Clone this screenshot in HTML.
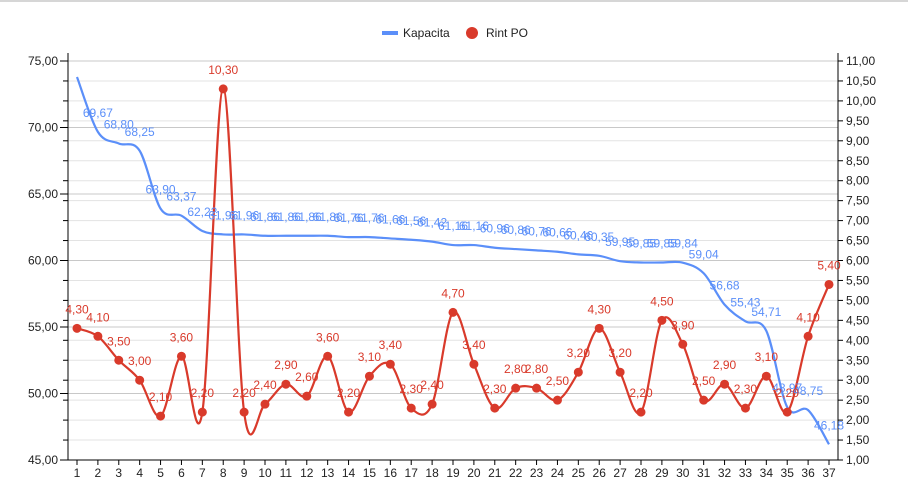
<!DOCTYPE html>
<html><head><meta charset="utf-8"><style>
html,body{margin:0;padding:0;background:#fff;}
svg{display:block;font-family:"Liberation Sans",Arial,sans-serif;}
</style></head><body>
<svg id="c" width="908" height="504" xmlns="http://www.w3.org/2000/svg"></svg>
<script>
const svg=document.getElementById('c');
const NS='http://www.w3.org/2000/svg';
function el(t,a,txt){const e=document.createElementNS(NS,t);for(const k in a)e.setAttribute(k,a[k]);if(txt!==undefined)e.textContent=txt;svg.appendChild(e);return e;}
const L=68,R=838,T=61,B=460;
const X=i=>77+(i-1)*752/36;
const YL=v=>T+(75-v)*(B-T)/30;
const YR=v=>T+(11-v)*(B-T)/10;
el('rect',{x:0,y:0,width:908,height:2,fill:'#d6d6d6'});
for(let k=0;k<=20;k++){const y=T+k*(B-T)/20;el('line',{x1:L,x2:R,y1:y,y2:y,stroke:'#e3e3e3','stroke-width':1});}
for(let v=45;v<=75;v+=5){const y=YL(v);el('line',{x1:L,x2:R,y1:y,y2:y,stroke:'#c8c8c8','stroke-width':1});}
el('line',{x1:L,x2:L,y1:T-8,y2:B,stroke:'#000'});
el('line',{x1:R,x2:R,y1:T-8,y2:B,stroke:'#000'});
el('line',{x1:L,x2:R,y1:B,y2:B,stroke:'#000'});
for(let k=0;k<=20;k++){const y=T+k*(B-T)/20;el('line',{x1:L-5,x2:L,y1:y,y2:y,stroke:'#000'});el('line',{x1:R,x2:R+5,y1:y,y2:y,stroke:'#000'});
 const v=(11-k*0.5).toFixed(2).replace('.',',');el('text',{x:R+8,y:y+4,'font-size':12,fill:'#222'},v);}
for(let v=45;v<=75;v+=5){const y=YL(v);el('line',{x1:L-8,x2:L,y1:y,y2:y,stroke:'#000'});el('text',{x:L-10,y:y+4,'font-size':12,fill:'#222','text-anchor':'end'},v.toFixed(2).replace('.',','));}
for(let i=1;i<=37;i++){el('line',{x1:X(i),x2:X(i),y1:B,y2:B+5,stroke:'#000'});el('text',{x:X(i),y:B+17,'font-size':12,fill:'#222','text-anchor':'middle'},i);}
const kap=[73.8,69.67,68.80,68.25,63.90,63.37,62.22,61.96,61.96,61.86,61.86,61.86,61.86,61.76,61.76,61.66,61.56,61.42,61.16,61.16,60.96,60.86,60.76,60.66,60.46,60.35,59.95,59.85,59.85,59.84,59.04,56.68,55.43,54.71,48.97,48.75,46.18];
const rint=[4.30,4.10,3.50,3.00,2.10,3.60,2.20,10.30,2.20,2.40,2.90,2.60,3.60,2.20,3.10,3.40,2.30,2.40,4.70,3.40,2.30,2.80,2.80,2.50,3.20,4.30,3.20,2.20,4.50,3.90,2.50,2.90,2.30,3.10,2.20,4.10,5.40];
function path(pts){let d=`M${pts[0][0]},${pts[0][1]}`;for(let i=0;i<pts.length-1;i++){const p0=pts[Math.max(i-1,0)],p1=pts[i],p2=pts[i+1],p3=pts[Math.min(i+2,pts.length-1)];const t=6;
 d+=` C${p1[0]+(p2[0]-p0[0])/t},${p1[1]+(p2[1]-p0[1])/t} ${p2[0]-(p3[0]-p1[0])/t},${p2[1]-(p3[1]-p1[1])/t} ${p2[0]},${p2[1]}`;}return d;}
const kp=kap.map((v,i)=>[X(i+1),YL(v)]);
const rp=rint.map((v,i)=>[X(i+1),YR(v)]);
el('path',{d:path(kp),fill:'none',stroke:'#5b8ff9','stroke-width':2.2});
el('path',{d:path(rp),fill:'none',stroke:'#d93a2b','stroke-width':2.2});
rp.forEach(p=>el('circle',{cx:p[0],cy:p[1],r:4.5,fill:'#d93a2b'}));
kap.forEach((v,i)=>{if(i==0)return;el('text',{x:kp[i][0],y:kp[i][1]-15,'font-size':12,fill:'#5b8ff9','text-anchor':'middle'},v.toFixed(2).replace('.',','));});
rint.forEach((v,i)=>{el('text',{x:rp[i][0],y:rp[i][1]-15,'font-size':12,fill:'#d93a2b','text-anchor':'middle'},v.toFixed(2).replace('.',','));});
el('line',{x1:382,x2:398,y1:33,y2:33,stroke:'#5b8ff9','stroke-width':4});
el('text',{x:403,y:37,'font-size':12,fill:'#222'},'Kapacita');
el('circle',{cx:472,cy:33,r:6,fill:'#d93a2b'});
el('text',{x:486,y:37,'font-size':12,fill:'#222'},'Rint PO');
</script>
</body></html>
